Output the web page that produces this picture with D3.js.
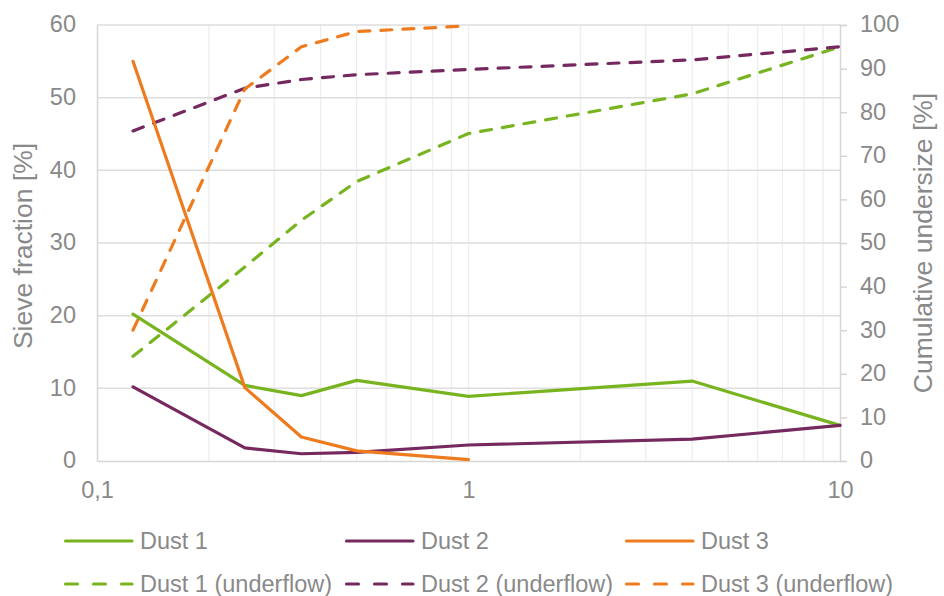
<!DOCTYPE html>
<html>
<head>
<meta charset="utf-8">
<script src="https://cdn.jsdelivr.net/npm/d3@7"></script>
<style>
  html, body { margin: 0; padding: 0; background: #fff; }
  svg { display: block; }
  text { font-family: "Liberation Sans", Arial, sans-serif; }
</style>
</head>
<body>
<svg id="chart" width="944" height="596"></svg>
<script>
// Particle size classes [mm]
const sizes = [0.125, 0.25, 0.355, 0.5, 1, 4, 10];
const sizesDust3 = [0.125, 0.25, 0.355, 0.5, 1];

// Sieve fraction [%] (left axis)
const dust1 = [20.2, 10.4, 9.0, 11.1, 8.9, 11.0, 4.9];
const dust2 = [10.2, 1.8, 1.0, 1.2, 2.2, 3.0, 4.9];
const dust3 = [55.0, 10.1, 3.3, 1.4, 0.2];

// Cumulative undersize [%] (right axis)
const dust1Under = [24.0, 44.5, 55.2, 64.1, 75.1, 84.2, 95.0];
const dust2Under = [75.7, 85.5, 87.5, 88.6, 89.8, 92.0, 95.0];
const dust3Under = [30.0, 85.3, 95.0, 98.5, 99.8];

const xTickLabels = ["0,1", "1", "10"];
const leftTicks = [0, 10, 20, 30, 40, 50, 60];
const rightTicks = [0, 10, 20, 30, 40, 50, 60, 70, 80, 90, 100];

const colors = { green: "#78B41F", purple: "#75295F", orange: "#EE7C1E" };
const textGray = "#898989";
const FONT = '"Liberation Sans", Arial, sans-serif';

const svg = d3.select("#chart");
const L = 97, R = 840, T = 25, B = 461;

const x = d3.scaleLog().domain([0.1, 10]).range([L, R]);
const yL = d3.scaleLinear().domain([0, 60]).range([B, T]);
const yR = d3.scaleLinear().domain([0, 100]).range([B, T]);

// vertical log grid
svg.append("g")
  .selectAll("line")
  .data(x.ticks().filter(v => v > 0.1 && v < 10))
  .join("line")
  .attr("x1", d => x(d)).attr("x2", d => x(d))
  .attr("y1", T).attr("y2", B)
  .attr("stroke", "#eeeeee").attr("stroke-width", 1.3);

// horizontal grid
svg.append("g")
  .selectAll("line")
  .data(leftTicks.filter(v => v > 0))
  .join("line")
  .attr("x1", L).attr("x2", R)
  .attr("y1", d => yL(d)).attr("y2", d => yL(d))
  .attr("stroke", "#dedede").attr("stroke-width", 1.5);

// left axis
const gL = svg.append("g").attr("transform", `translate(${L},0)`)
  .call(d3.axisLeft(yL).tickValues(leftTicks).tickSize(0).tickPadding(21).tickFormat(d3.format("d")));
gL.select(".domain").attr("stroke", "#d6d6d6").attr("stroke-width", 1.5);
gL.selectAll(".tick text").attr("dy", "0.29em");

// right axis
const gR = svg.append("g").attr("transform", `translate(${R},0)`)
  .call(d3.axisRight(yR).tickValues(rightTicks).tickSize(7).tickPadding(13).tickFormat(d3.format("d")));
gR.select(".domain").attr("stroke", "#d6d6d6").attr("stroke-width", 1.5);
gR.selectAll(".tick line").attr("stroke", "#d6d6d6").attr("stroke-width", 1.5);
gR.selectAll(".tick text").attr("dy", "0.29em");

// bottom axis
const gB = svg.append("g").attr("transform", `translate(0,${B})`)
  .call(d3.axisBottom(x).tickValues([0.1, 1, 10]).tickSize(0).tickPadding(20)
    .tickFormat((d, i) => xTickLabels[i]));
gB.select(".domain").attr("stroke", "#d6d6d6").attr("stroke-width", 1.5);

svg.selectAll(".tick text")
  .attr("fill", textGray)
  .attr("font-family", FONT)
  .attr("font-size", 23.5);

// axis titles
svg.append("text")
  .attr("transform", `translate(32,246) rotate(-90)`)
  .attr("text-anchor", "middle")
  .attr("fill", textGray).attr("font-size", 26.5)
  .text("Sieve fraction [%]");
svg.append("text")
  .attr("transform", `translate(932,243) rotate(-90)`)
  .attr("text-anchor", "middle")
  .attr("fill", textGray).attr("font-size", 26.5)
  .text("Cumulative undersize [%]");

// series
const series = [
  { name: "Dust 1 (underflow)", xs: sizes, ys: dust1Under, y: yR, color: colors.green, dash: true },
  { name: "Dust 2 (underflow)", xs: sizes, ys: dust2Under, y: yR, color: colors.purple, dash: true },
  { name: "Dust 3 (underflow)", xs: sizesDust3, ys: dust3Under, y: yR, color: colors.orange, dash: true },
  { name: "Dust 1", xs: sizes, ys: dust1, y: yL, color: colors.green, dash: false },
  { name: "Dust 2", xs: sizes, ys: dust2, y: yL, color: colors.purple, dash: false },
  { name: "Dust 3", xs: sizesDust3, ys: dust3, y: yL, color: colors.orange, dash: false }
];

series.forEach(s => {
  const line = d3.line().x(d => x(d[0])).y(d => s.y(d[1]));
  svg.append("path")
    .datum(s.xs.map((v, i) => [v, s.ys[i]]))
    .attr("d", line)
    .attr("fill", "none")
    .attr("stroke", s.color)
    .attr("stroke-width", 3.2)
    .attr("stroke-linejoin", "round")
    .attr("stroke-linecap", "round")
    .attr("stroke-dasharray", s.dash ? "11,11" : null);
});

// legend
const legendItems = [
  { name: "Dust 1", color: colors.green, dash: false, col: 0, row: 0 },
  { name: "Dust 2", color: colors.purple, dash: false, col: 1, row: 0 },
  { name: "Dust 3", color: colors.orange, dash: false, col: 2, row: 0 },
  { name: "Dust 1 (underflow)", color: colors.green, dash: true, col: 0, row: 1 },
  { name: "Dust 2 (underflow)", color: colors.purple, dash: true, col: 1, row: 1 },
  { name: "Dust 3 (underflow)", color: colors.orange, dash: true, col: 2, row: 1 }
];
const colX = [64, 345, 625];
const rowY = [541, 584];
const lg = svg.append("g");
legendItems.forEach(it => {
  const x0 = colX[it.col], y0 = rowY[it.row];
  lg.append("line")
    .attr("x1", x0 + 1.5).attr("x2", x0 + 68)
    .attr("y1", y0).attr("y2", y0)
    .attr("stroke", it.color).attr("stroke-width", 3.2)
    .attr("stroke-linecap", "round")
    .attr("stroke-dasharray", it.dash ? "12,16" : null);
  lg.append("text")
    .attr("x", x0 + 76).attr("y", y0 + 8)
    .attr("fill", textGray).attr("font-size", 23.5)
    .text(it.name);
});
</script>
</body>
</html>
